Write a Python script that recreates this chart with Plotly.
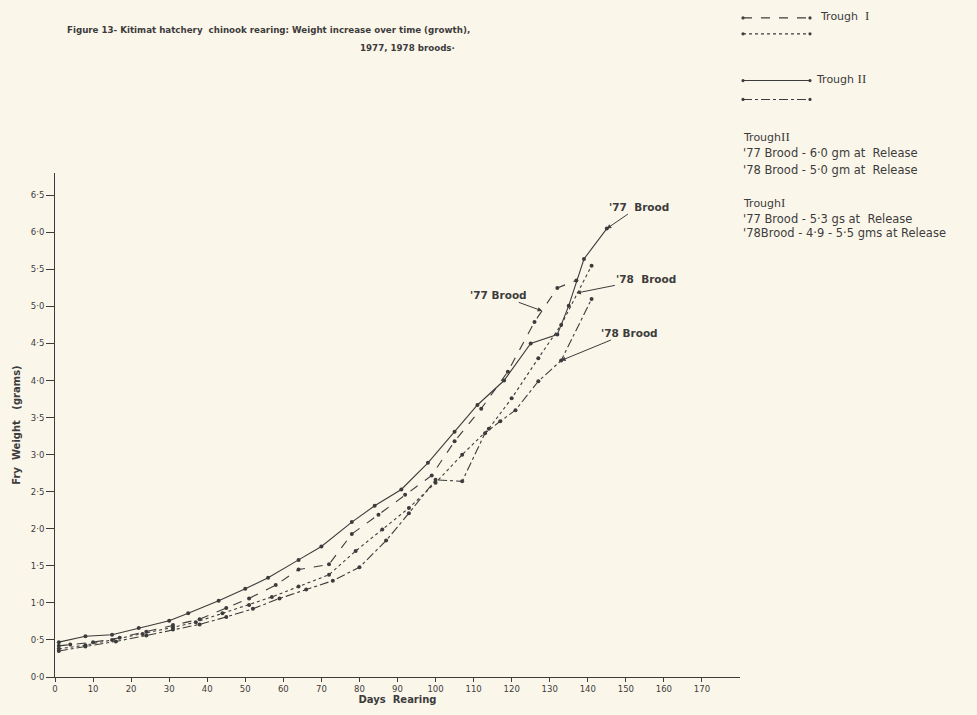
import plotly.graph_objects as go

# Fry weight (grams) against days of rearing, Kitimat hatchery chinook
t1_77_days = [1, 4, 10, 17, 24, 31, 38, 45, 51, 58, 64, 72, 78, 85, 92, 99, 105, 112, 119, 126, 132, 137]
t1_77_wt = [0.42, 0.44, 0.47, 0.53, 0.61, 0.70, 0.78, 0.93, 1.06, 1.24, 1.45, 1.52, 1.93, 2.19, 2.46, 2.72,
            3.18, 3.62, 4.12, 4.79, 5.25, 5.35]

t1_78_days = [1, 8, 15, 23, 31, 37, 44, 51, 57, 64, 72, 79, 86, 93, 100, 107, 114, 120, 127, 133, 141]
t1_78_wt = [0.38, 0.43, 0.50, 0.58, 0.67, 0.74, 0.86, 0.97, 1.08, 1.22, 1.38, 1.70, 1.99, 2.28, 2.62, 3.00,
            3.35, 3.76, 4.30, 4.75, 5.55]

t2_77_days = [1, 8, 15, 22, 30, 35, 43, 50, 56, 64, 70, 78, 84, 91, 98, 105, 111, 118, 125, 132, 135, 139, 145]
t2_77_wt = [0.47, 0.55, 0.57, 0.66, 0.76, 0.86, 1.03, 1.19, 1.34, 1.58, 1.76, 2.09, 2.31, 2.53, 2.89, 3.31,
            3.67, 4.00, 4.50, 4.62, 5.01, 5.64, 6.05]

t2_78_days = [1, 8, 16, 24, 31, 38, 45, 52, 59, 66, 73, 80, 87, 93, 100, 107, 113, 117, 121, 127, 133, 141]
t2_78_wt = [0.35, 0.41, 0.48, 0.56, 0.64, 0.71, 0.81, 0.92, 1.06, 1.18, 1.30, 1.48, 1.84, 2.21, 2.66, 2.64,
            3.29, 3.45, 3.60, 3.99, 4.27, 5.10]

x_ticks = list(range(0, 180, 10))
y_ticks = [i * 0.5 for i in range(14)]
y_tick_text = [f"{v:.1f}".replace(".", "·") for v in y_ticks]

INK = "#3c3c3c"
PAPER = "#fbf6ea"
FONT = "DejaVu Sans"

fig = go.Figure()

series = [
    (t1_77_days, t1_77_wt, "dash", "Trough I '77"),
    (t1_78_days, t1_78_wt, "dot", "Trough I '78"),
    (t2_77_days, t2_77_wt, "solid", "Trough II '77"),
    (t2_78_days, t2_78_wt, "dashdot", "Trough II '78"),
]
for d, w, dash, name in series:
    fig.add_trace(go.Scatter(
        x=d, y=w, mode="lines+markers", name=name,
        line=dict(color=INK, width=1.1, dash=dash),
        marker=dict(color=INK, size=4),
        showlegend=False,
    ))

# plot area in pixels
L, R, T, B = 55, 740, 173, 680
W, H = 977, 715


def px(x):
    return (x - L) / (R - L)


def py(y):
    return (B - y) / (B - T)


# hand-drawn key in the upper right
shapes = []
key = [(17, "dash"), (33, "dot"), (80, "solid"), (99, "dashdot")]
for yy, dash in key:
    shapes.append(dict(type="line", xref="paper", yref="paper",
                       x0=px(743), x1=px(810), y0=py(yy), y1=py(yy),
                       line=dict(color=INK, width=1.1, dash=dash)))
    for xx in (743, 810):
        shapes.append(dict(type="circle", xref="paper", yref="paper",
                           x0=px(xx - 1.6), x1=px(xx + 1.6), y0=py(yy - 1.6), y1=py(yy + 1.6),
                           fillcolor=INK, line=dict(width=0)))

ann = []


def txt(x, y, s, size=10.5, anchor="left", bold=False):
    ann.append(dict(xref="paper", yref="paper", x=px(x), y=py(y), text=f"<b>{s}</b>" if bold else s,
                    showarrow=False, xanchor=anchor, yanchor="middle",
                    font=dict(family=FONT, size=size, color=INK)))


roman = "<span style='font-family:Liberation Serif;font-size:13px'>{}</span>"
txt(818, 15, "Trough  " + roman.format("I"), 11)
txt(814, 78, "Trough " + roman.format("II"), 11)
txt(741, 136, "Trough" + roman.format("II"), 11)
txt(741, 153, "'77 Brood - 6·0 gm at  Release", 11.5)
txt(741, 170, "'78 Brood - 5·0 gm at  Release", 11.5)
txt(741, 203, "Trough" + roman.format("I"), 11)
txt(741, 219, "'77 Brood - 5·3 gs at  Release", 11.5)
txt(741, 233, "'78Brood - 4·9 - 5·5 gms at Release", 11.5)

# title
txt(65, 29, "Figure 13- Kitimat hatchery  chinook rearing: Weight increase over time (growth),", 8.7, bold=True)
txt(457, 47, "1977, 1978 broods·", 8.7, anchor="right", bold=True)

# brood labels with leader arrows
for x, y, ax, ay, s in [(145, 6.05, 32, -22, "'77  Brood"),
                        (137, 5.18, 70, -14, "'78  Brood"),
                        (128, 4.94, -44, -16, "'77 Brood"),
                        (133, 4.27, 68, -28, "'78 Brood")]:
    ann.append(dict(x=x, y=y, xref="x", yref="y", ax=ax, ay=ay, text=f"<b>{s}</b>",
                    showarrow=True, arrowhead=2, arrowsize=0.9, arrowwidth=1,
                    arrowcolor=INK, standoff=0,
                    font=dict(family=FONT, size=10.5, color=INK)))

fig.update_layout(
    width=W, height=H,
    margin=dict(l=L, r=W - R, t=T, b=H - B),
    paper_bgcolor=PAPER, plot_bgcolor=PAPER,
    shapes=shapes, annotations=ann,
    xaxis=dict(range=[0, 180], tickvals=x_ticks, ticktext=[str(v) for v in x_ticks],
               showgrid=False, zeroline=False, showline=True, linecolor=INK, linewidth=1,
               ticks="outside", ticklen=4, tickcolor=INK,
               tickfont=dict(family=FONT, size=8.5, color=INK),
               title=dict(text="<b>Days  Rearing</b>", standoff=2,
                          font=dict(family=FONT, size=10, color=INK))),
    yaxis=dict(range=[0, 6.8], tickvals=y_ticks, ticktext=y_tick_text,
               showgrid=False, zeroline=False, showline=True, linecolor=INK, linewidth=1,
               ticks="outside", ticklen=8, tickcolor=INK,
               tickfont=dict(family=FONT, size=8.5, color=INK),
               title=dict(text="<b>Fry  Weight   (grams)</b>", standoff=8,
                          font=dict(family=FONT, size=10, color=INK))),
)

fig.write_html("out.html")
